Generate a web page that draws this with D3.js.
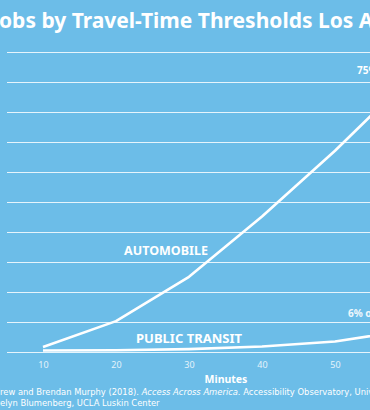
<!DOCTYPE html>
<html>
<head>
<meta charset="utf-8">
<script src="https://cdn.jsdelivr.net/npm/d3@7"></script>
<style>
  body { margin: 0; background: #6cbde8; overflow: hidden; }
  svg { display: block; font-family: "Noto Sans", sans-serif; }
</style>
</head>
<body>
<svg id="chart"></svg>
<script>
// data (percent of jobs reachable)
const minutes = [10, 20, 30, 40, 50, 60];
const automobile = [1.4, 8.5, 20.7, 37.3, 55.4, 75];
const transit = [0.4, 0.5, 0.8, 1.5, 2.9, 6];
const xTickLabels = [10, 20, 30, 40, 50];
const gridValues = [0, 8.26, 16.52, 24.78, 33.04, 41.3, 49.56, 57.82, 66.08, 74.34, 82.6];

const W = 370, H = 410;
const margin = { top: 52, right: -38, bottom: 58, left: 43 };

const svg = d3.select("#chart").attr("width", W).attr("height", H);

svg.append("rect").attr("width", W).attr("height", H).attr("fill", "#6cbde8");

const x = d3.scaleLinear().domain([10, 60]).range([margin.left, W - margin.right]);
const y = d3.scaleLinear().domain([0, 82.6]).range([H - margin.bottom, margin.top]);

// width of a string in the given text's font
function measure(sel, str) {
  const probe = svg.append("text")
    .attr("font-size", sel.attr("font-size"))
    .attr("font-weight", sel.attr("font-weight"))
    .attr("font-family", sel.attr("font-family"))
    .text(str);
  const w = probe.node().getComputedTextLength();
  probe.remove();
  return w;
}

// place a string so that the part after `prefix` begins at targetX
function cutAt(sel, prefix, targetX) {
  sel.attr("x", targetX - measure(sel, prefix));
}

// gridlines
svg.append("g")
  .selectAll("line")
  .data(gridValues)
  .join("line")
  .attr("x1", 7)
  .attr("x2", W)
  .attr("y1", d => Math.round(y(d)) + 0.5)
  .attr("y2", d => Math.round(y(d)) + 0.5)
  .attr("stroke", "#e6f4fc")
  .attr("stroke-width", 1.2);

// title
const title = svg.append("text")
  .attr("y", 28)
  .attr("font-size", 21)
  .attr("font-weight", 700)
  .attr("fill", "#fff")
  .text("Percent of Jobs by Travel-Time Thresholds Los Angeles");
cutAt(title, "Percent of J", -1);

// x axis labels
const xAxis = d3.axisBottom(x)
  .tickValues(xTickLabels)
  .tickSize(0)
  .tickPadding(10)
  .tickFormat(d3.format("d"));

const gx = svg.append("g")
  .attr("transform", `translate(0, ${H - margin.bottom})`)
  .call(xAxis);
gx.select(".domain").remove();
gx.selectAll("text")
  .attr("fill", "#e4f3fb")
  .attr("font-size", 9)
  .attr("font-family", "Noto Sans, sans-serif");

svg.append("text")
  .attr("x", 226)
  .attr("y", 383)
  .attr("text-anchor", "middle")
  .attr("font-size", 10.5)
  .attr("font-weight", 700)
  .attr("fill", "#fff")
  .text("Minutes");

// lines
const line = d3.line()
  .x((d, i) => x(minutes[i]))
  .y(d => y(d));

[automobile, transit].forEach(series => {
  svg.append("path")
    .datum(series)
    .attr("d", line)
    .attr("fill", "none")
    .attr("stroke", "#fff")
    .attr("stroke-width", 2.6)
    .attr("stroke-linejoin", "round");
});

// series labels
svg.append("text")
  .attr("x", 166)
  .attr("y", 255)
  .attr("text-anchor", "middle")
  .attr("font-size", 12.5)
  .attr("font-weight", 700)
  .attr("fill", "#fff")
  .text("AUTOMOBILE");

svg.append("text")
  .attr("x", 189)
  .attr("y", 343)
  .attr("text-anchor", "middle")
  .attr("font-size", 13)
  .attr("font-weight", 700)
  .attr("fill", "#fff")
  .text("PUBLIC TRANSIT");

svg.append("text")
  .attr("x", 357)
  .attr("y", 74)
  .attr("font-size", 10)
  .attr("font-weight", 700)
  .attr("fill", "#fff")
  .text("75% of jobs");

svg.append("text")
  .attr("x", 348)
  .attr("y", 317)
  .attr("font-size", 10)
  .attr("font-weight", 700)
  .attr("fill", "#eef7fc")
  .text("6% of jobs");

// source lines
const src1 = svg.append("text")
  .attr("y", 395)
  .attr("font-size", 8.4)
  .attr("font-family", "DejaVu Sans, sans-serif")
  .attr("fill", "#fff");
src1.append("tspan").text("Source: Owen, Andrew and Brendan Murphy (2018).  ");
src1.append("tspan").attr("font-style", "italic").text("Access Across America.");
src1.append("tspan").text("  Accessibility Observatory, University of Minnesota");
cutAt(src1, "Source: Owen, And", 0);

const src2 = svg.append("text")
  .attr("y", 406)
  .attr("font-size", 8.4)
  .attr("font-family", "DejaVu Sans, sans-serif")
  .attr("fill", "#fff")
  .text("Chart: Evelyn Blumenberg, UCLA Luskin Center");
cutAt(src2, "Chart: Ev", 0);
</script>
</body>
</html>
